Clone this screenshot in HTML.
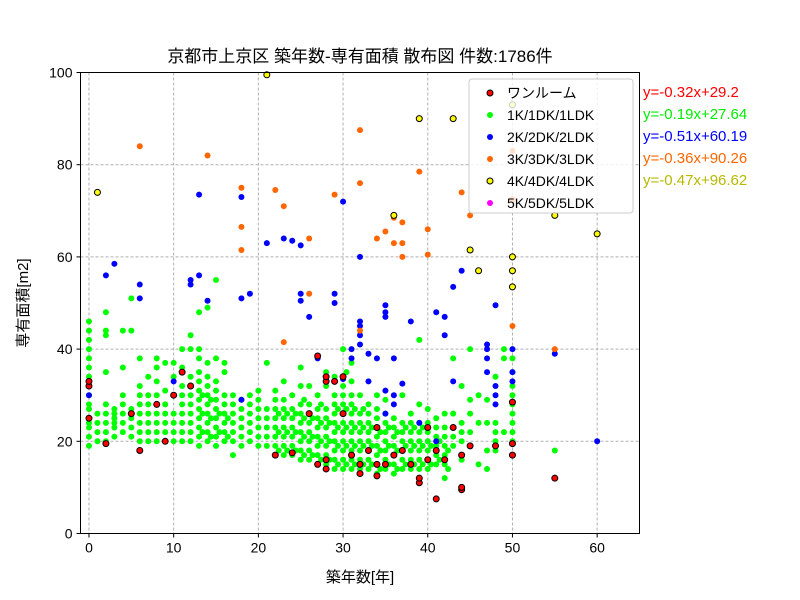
<!DOCTYPE html>
<html><head><meta charset="utf-8">
<style>
body{margin:0;background:#fff;}
svg{display:block;font-family:"Liberation Sans","Noto Sans CJK JP",sans-serif;}
</style></head>
<body>
<svg id="chart" width="800" height="600" viewBox="0 0 800 600" xmlns="http://www.w3.org/2000/svg">
<rect width="800" height="600" fill="#fff"/>
<text x="360" y="62" font-size="17" text-anchor="middle">京都市上京区 築年数-専有面積 散布図  件数:1786件</text>
<g id="grid"></g>
<g id="points"></g>
<rect x="80.5" y="72.5" width="559" height="461" fill="none" stroke="#000" stroke-width="1"/>
<g id="ticks"></g>
<text x="360" y="582" font-size="15" text-anchor="middle">築年数[年]</text>
<text x="28" y="303" font-size="15" text-anchor="middle" transform="rotate(-90 28 303)">専有面積[m2]</text>
<g id="legend"></g>
<g id="eqs"></g>
</svg>
<script>
const xTicks=[0,10,20,30,40,50,60];
const yTicks=[0,20,40,60,80,100];
const greenAges=[0,1,2,3,4,5,6,7,8,9,10,11,12,13,14,15,16,17,18,19,20,21,22,23,24,25,26,27,28,29,30,31,32,33,34,35,36,37,38,39,40,41,42,43,44,45,46,47,48,49,50,55];
const greenAreas=[
[19,21,23,24,25,27,28,30,32,34,36,38,40,42,44,46],[20,22,24,26],[20,22,24,26,28,35,43,44,48],[21,23,24,25,26,27],
[22,24,26,28,30,36,44],[21,23,25,27,44,51],[18,20,22,24,26,28,30,32,38],[20,22,24,26,28,30,34],
[20,22,24,26,30,33,36,38],[20,22,24,26,28,31,37],[20,22,24,26,30,34,37],[20,22,24,26,28,30,32,36,40],
[20,22,24,26,28,30,34,40,43],[19,21,23,25,27,29,31,33,35,38,40,48],[20,22,24,26,28,30,32,34,37,49],
[19,21,23,25,27,29,31,33,38,55],[20,22,24,26,28,30,35,37],[17,20,22,24,26,28,30],[19,21,23,25,27,29],
[20,22,24,26,28,30],[19,21,23,25,27,29,31],[19,21,23,25,27,37],[17,19,21,23,25,27,29,31],
[17,19,21,23,25,27,29,33],[17,19,21,23,25,27,30],[16,18,20,22,24,26,28,32,36],[16,18,20,22,24,26,28,32],
[15,17,19,21,23,25,27,30],[15,17,19,21,23,25,27,32,35],[14,16,18,20,22,24,26,28,30,34],
[14,16,18,20,22,24,26,28,30,32,34,40],[14,16,18,20,22,24,26,28,30,33,37],[14,16,18,20,22,24,26,30],
[14,16,18,20,22,24,26,28],[13,15,17,19,21,23,25,27,30],[14,16,18,20,22,24,26,29],[13,15,17,19,21,23,25],
[14,16,18,20,22,24,30],[14,16,18,20,22,24,26],[14,16,18,20,22,24,28,42],[14,16,18,20,22,24,27],
[15,17,19,21,23,25],[12,15,17,19,21,23,26],[19,21,23,26,38],[16,20,22,24,32],[22,26,29,40],[15,24,30],
[14,18,24,29],[18,20,22,24,34],[22,38,40],[17,20,22,24,26,28,30,32,35,38],[18]];
const greenExtraAges=[13,14,15,16,22,23,24,25,26,27,28,29,30,31,32,33,34,35,36,37,38,39,40,41,42];
const greenExtraAreas=[[22,26,30],[21,25,29],[22,26],[21,25],[18,22,26],[18,22,26],[18,22,26],[17,21,25,29],[17,21,25],[16,20,24,28],[16,20,24],[15,19,23,27],[15,19,23,27,35],[15,19,23,27],[15,19,23,27],[15,19,23],[14,18,22],[15,19,23],[14,18,22],[15,19,23],[15,19,23],[15,19,23],[15,19],[16,20],[14,18]];
const oneRoom=[[0,25],[0,32],[0,33],[2,19.5],[5,26],[6,18],[8,28],[9,20],[10,30],[11,35],[12,32],[22,17],[24,17.5],[26,26],[27,38.5],[27,15],[28,14],[28,16],[28,33],[28,34],[29,33],[30,26],[30,34],[31,17],[32,13],[32,15],[33,18],[34,12.5],[34,15],[34,23],[35,15],[36,17],[37,18],[38,15],[39,11],[39,12],[40,23],[40,16],[41,7.5],[41,18],[42,16],[43,23],[44,9.5],[44,10],[44,17],[45,19],[48,19],[50,17],[50,19.5],[50,28.5],[55,12]];
const twoK=[[0,30],[2,56],[3,58.5],[6,51],[6,54],[10,33],[12,54],[12,55],[13,73.5],[13,56],[14,50.5],[18,73],[18,51],[18,29],[19,52],[21,63],[23,64],[24,63.5],[25,62.5],[25,50.5],[25,52],[26,47],[27,38],[29,50],[29,52],[30,72],[30,33.5],[31,40],[31,38],[32,60],[32,46],[32,45],[32,43],[32,41],[33,39],[33,33],[34,38],[35,49.5],[35,48],[35,47],[35,31],[35,26],[36,30],[36,28],[36,38],[37,32.5],[38,46],[39,24],[40,16],[41,48],[41,20],[42,47],[42,43],[43,33],[43,53.5],[44,57],[47,41],[47,40],[47,38],[47,35],[48,49.5],[48,32],[48,30],[48,28],[50,40],[50,35],[50,33],[55,39],[60,20]];
const threeK=[[6,84],[14,82],[18,75],[18,66.5],[18,61.5],[22,74.5],[23,71],[23,41.5],[26,52],[26,64],[29,73.5],[32,87.5],[32,76],[32,44],[34,64],[35,65.5],[36,63],[36,68.5],[37,63],[37,67.5],[37,60],[39,78.5],[40,66],[40,60.5],[44,74],[45,69],[50,83],[50,72.5],[50,45],[55,40]];
const fourK=[[1,74],[21,99.5],[36,69],[39,90],[43,90],[45,61.5],[46,57],[50,93],[50,60],[50,57],[50,53.5],[55,69],[60,65]];
const fiveK=[];
const legendLabels=["ワンルーム","1K/1DK/1LDK","2K/2DK/2LDK","3K/3DK/3LDK","4K/4DK/4LDK","5K/5DK/5LDK"];
const equations=["y=-0.32x+29.2","y=-0.19x+27.64","y=-0.51x+60.19","y=-0.36x+90.26","y=-0.47x+96.62"];

const NS="http://www.w3.org/2000/svg";
const X0=80.5,X1=639.5,Y0=533.5,Y1=72.5,XMIN=-1,XMAX=65,YMIN=0,YMAX=100;
function sx(v){return X0+(v-XMIN)/(XMAX-XMIN)*(X1-X0);}
function sy(v){return Y0-(v-YMIN)/(YMAX-YMIN)*(Y0-Y1);}
function mk(tag,attrs,parent){const e=document.createElementNS(NS,tag);for(const k in attrs)e.setAttribute(k,attrs[k]);parent.appendChild(e);return e;}
const grid=document.getElementById('grid'),ticks=document.getElementById('ticks'),pts=document.getElementById('points');
xTicks.forEach(t=>{
  const l=mk('line',{x1:sx(t),x2:sx(t),y1:Y1,y2:Y0,stroke:'#b0b0b0','stroke-dasharray':'3,2'},grid);
  
  
  mk('line',{x1:sx(t),x2:sx(t),y1:Y0,y2:Y0+4,stroke:'#000'},ticks);
  const tx=mk('text',{x:sx(t),y:Y0+19,'font-size':14,'text-anchor':'middle'},ticks);
  tx.textContent=t;
  
  
});
yTicks.forEach(t=>{
  const l=mk('line',{x1:X0,x2:X1,y1:sy(t),y2:sy(t),stroke:'#b0b0b0','stroke-dasharray':'3,2'},grid);
  
  
  mk('line',{x1:X0-4,x2:X0,y1:sy(t),y2:sy(t),stroke:'#000'},ticks);
  const tx=mk('text',{x:X0-8,y:sy(t)+5,'font-size':14,'text-anchor':'end'},ticks);
  tx.textContent=t;
  
  
});
function dot(x,y,fill,edge,name){
  const c=mk('circle',{cx:sx(x),cy:sy(y),r:3,fill:fill,stroke:edge?'#000':'none','stroke-width':1},pts);
  
  
}
greenAges.forEach((a,i)=>greenAreas[i].forEach(v=>dot(a,v,'#00ff00',false,'point-1k')));
greenExtraAges.forEach((a,i)=>greenExtraAreas[i].forEach(v=>dot(a+0.4,v,'#00ff00',false,'point-1k')));
twoK.forEach(p=>dot(p[0],p[1],'#0000ff',false,'point-2k'));
threeK.forEach(p=>dot(p[0],p[1],'#ff6600',false,'point-3k'));
oneRoom.forEach(p=>dot(p[0],p[1],'#ff0000',true,'point-one-room'));
fourK.forEach(p=>dot(p[0],p[1],'#ffff00',true,'point-4k'));
fiveK.forEach(p=>dot(p[0],p[1],'#ff00ff',false,'point-5k'));

const lg=document.getElementById('legend');
const box=mk('rect',{x:469,y:79,width:164,height:134,fill:'#fff','fill-opacity':0.8,stroke:'#ccc',rx:3},lg);


const lcol=[['#ff0000',1],['#00ff00',0],['#0000ff',0],['#ff6600',0],['#ffff00',1],['#ff00ff',0]];
legendLabels.forEach((s,i)=>{
  const y=93+i*22;
  const c=mk('circle',{cx:490,cy:y,r:3,fill:lcol[i][0],stroke:lcol[i][1]?'#000':'none'},lg);
  
  
  const t=mk('text',{x:507,y:y+5,'font-size':14},lg);
  t.textContent=s;
  
  
});
const eq=document.getElementById('eqs');
const ecol=['#ff0000','#00ee00','#0000ff','#ff6600','#b8b800'];
equations.forEach((s,i)=>{
  const t=mk('text',{x:643,y:97+i*22,'font-size':15,fill:ecol[i]},eq);
  t.textContent=s;
  
  
});
</script>
</body></html>
